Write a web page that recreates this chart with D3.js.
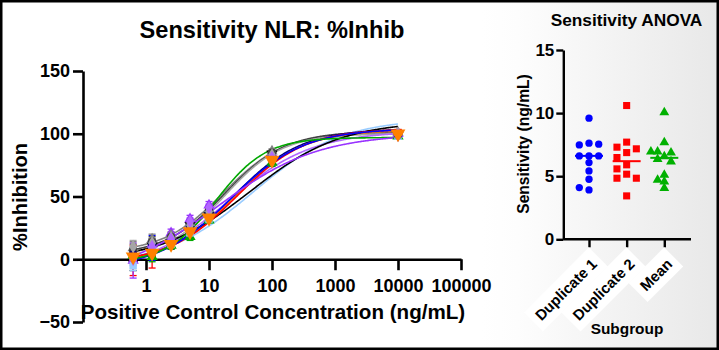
<!DOCTYPE html>
<html><head><meta charset="utf-8">
<script src="https://cdn.jsdelivr.net/npm/d3@7"></script>
<style>
body{margin:0;background:#fff}
text{font-family:Arial,"Liberation Sans",sans-serif;font-weight:bold;fill:#000}
</style>
</head><body>
<svg id="chart" width="719" height="350"></svg>
<script>
// ---------- DATA: left panel (dose-response) ----------
const concentrations = [0.625, 1.25, 2.5, 5, 10, 100, 10000];
const xTickValues = [1, 10, 100, 1000, 10000, 100000];
const yTickValues = [-50, 0, 50, 100, 150];
const seriesNames = ["Run 1","Run 2","Run 3","Run 4","Run 5","Run 6","Run 7","Run 8","Run 9","Run 10","Run 11","Run 12"];
const run1  = [-3, 11, 13, 27, 35, 84, 99];
const run2  = [-1, 4, 14, 24, 34, 80, 101];
const run3  = [2, 9, 12, 23, 33, 79, 100];
const run4  = [3, 2, 11, 18, 31, 77, 98];
const run5  = [-1, 12, 21, 32, 43, 84, 100];
const run6  = [-5, 7, 12, 21, 32, 80, 98];
const run7  = [9, 16, 19, 29, 40, 86, 101];
const run8  = [7, 14, 18, 28, 39, 85, 100];
const run9  = [4, 12, 15, 26, 37, 82, 99];
const run10 = [10, 13, 17, 27, 38, 83, 100];
const run11 = [0, 10, 16, 30, 41, 81, 99];
const run12 = [2, 5, 12, 22, 33, 79, 100];
const err1  = [6, 5, 4, 3, 3, 2, 2];
const err2  = [12, 11, 4, 3, 3, 2, 2];
const err3  = [5, 10, 4, 3, 3, 2, 2];
const err4  = [5, 4, 3, 3, 2, 3, 2];
const err5  = [14, 4, 3, 3, 3, 2, 2];
const err6  = [4, 4, 3, 3, 3, 2, 2];
const err7  = [5, 4, 3, 3, 3, 2, 2];
const err8  = [5, 4, 3, 3, 3, 2, 2];
const err9  = [5, 4, 3, 3, 3, 2, 2];
const err10 = [5, 4, 3, 3, 3, 2, 2];
const err11 = [5, 4, 3, 3, 3, 2, 2];
const err12 = [4, 4, 3, 3, 3, 2, 2];
// 4PL fit parameters per run
const fitBottom = [-2, -3, -8, -3, -15, -5, 5, 3, -4, 2, -10, -4];
const fitTop    = [110, 104, 104, 97, 100, 112, 101, 102, 104, 100, 102, 103];
const fitEC50   = [45, 28, 22, 13, 14, 50, 17, 18, 24, 18, 20, 25];
const fitHill   = [0.6, 0.8, 0.75, 1.1, 0.55, 0.62, 0.9, 0.9, 0.8, 0.95, 0.65, 0.8];

// ---------- DATA: right panel (ANOVA scatter) ----------
const subgroups = ["Duplicate 1", "Duplicate 2", "Mean"];
const duplicate1 = [9.6, 7.62, 7.48, 7.54, 6.61, 6.61, 6.61, 6.08, 5.42, 4.76, 3.91, 4.1];
const duplicate2 = [10.6, 6.87, 7.3, 7.7, 7.17, 6.48, 5.9, 5.16, 5.58, 4.84, 4.84, 3.44];
const meanValues = [10.05, 7.67, 6.56, 6.95, 6.87, 6.95, 6.35, 6.16, 5.1, 4.7, 4.57, 4.05];
const sensTicks = [0, 5, 10, 15];

// ---------- styles ----------
const runs = [run1,run2,run3,run4,run5,run6,run7,run8,run9,run10,run11,run12];
const errs = [err1,err2,err3,err4,err5,err6,err7,err8,err9,err10,err11,err12];
const runColors = ["#000000","#ff0000","#0000ff","#00a800","#9933ff","#99ccff","#808080","#404040","#000080","#a6a6a6","#b266ff","#ff8000"];
const runShapes = ["down","square","circle","up","up","square","up","circle","circle","diamond","diamond","down"];
const lineOrder = [5,6,7,8,9,10,11,0,1,2,3,4];
const groupColors = ["#0000ff","#ff0000","#00b000"];
const groupShapes = ["circle","square","up"];

const svg = d3.select("#chart");
const defs = svg.append("defs");
const grad = defs.append("linearGradient").attr("id","bg").attr("x1","0").attr("x2","1").attr("y1","0").attr("y2","0");
grad.append("stop").attr("offset","0").attr("stop-color","#ffffff");
grad.append("stop").attr("offset","0.15").attr("stop-color","#fdfdfd");
grad.append("stop").attr("offset","1").attr("stop-color","#e8e8e8");
svg.append("rect").attr("x",482).attr("y",0).attr("width",237).attr("height",350).attr("fill","url(#bg)");

function symbolPath(shape, size){
  const map = {circle:d3.symbolCircle, square:d3.symbolSquare, up:d3.symbolTriangle, down:d3.symbolTriangle, diamond:d3.symbolDiamond};
  return d3.symbol().type(map[shape]).size(size)();
}
function styleAxis(g, w){
  g.selectAll("path.domain").attr("stroke","#000").attr("stroke-width",w);
  g.selectAll(".tick line").attr("stroke","#000").attr("stroke-width",w);
}

// ================= LEFT PANEL =================
const x = d3.scaleLog().domain([0.1, 100000]).range([83, 461]);
const y = d3.scaleLinear().domain([-50, 150]).range([322, 71]);

const gy = svg.append("g").attr("transform","translate(83,0)")
  .call(d3.axisLeft(y).tickValues(yTickValues).tickSize(10).tickSizeOuter(0).tickPadding(3).tickFormat(d3.format("d")));
gy.selectAll("text").style("font-size","18px").style("font-family","Arial, 'Liberation Sans', sans-serif").style("font-weight","bold");
styleAxis(gy, 2.6);

const gx = svg.append("g").attr("transform",`translate(0,${y(0)})`)
  .call(d3.axisBottom(x).tickValues(xTickValues).tickSize(11).tickSizeOuter(0).tickFormat(d3.format("d")));
gx.selectAll("text").attr("y",33).attr("dy",0).style("font-size","18px").style("font-family","Arial, 'Liberation Sans', sans-serif").style("font-weight","bold");
styleAxis(gx, 2.6);

svg.append("text").attr("x",272).attr("y",38).attr("text-anchor","middle").style("font-size","23.6px").text("Sensitivity NLR: %Inhib");
svg.append("text").attr("transform","translate(27,197) rotate(-90)").attr("text-anchor","middle").style("font-size","20px").text("%Inhibition");
svg.append("text").attr("x",273).attr("y",319).attr("text-anchor","middle").style("font-size","20.6px").text("Positive Control Concentration (ng/mL)");

// fitted curves
const fitX = d3.range(0, 201).map(i => Math.pow(10, Math.log10(0.625) + i*(Math.log10(10000)-Math.log10(0.625))/200));
const line = d3.line().x(d => x(d[0])).y(d => y(d[1])).curve(d3.curveBasis);
lineOrder.forEach(i => {
  const pts = fitX.map(c => [c, fitBottom[i] + (fitTop[i]-fitBottom[i])/(1+Math.pow(fitEC50[i]/c, fitHill[i]))]);
  svg.append("path").attr("d", line(pts)).attr("fill","none").attr("stroke", runColors[i]).attr("stroke-width",1.6);
});

// error bars + markers
runs.forEach((vals, i) => {
  const g = svg.append("g");
  vals.forEach((v, j) => {
    const cx = x(concentrations[j]);
    const lo = y(v - errs[i][j]), hi = y(v + errs[i][j]);
    g.append("line").attr("x1",cx).attr("x2",cx).attr("y1",lo).attr("y2",hi).attr("stroke",runColors[i]).attr("stroke-width",1.3);
    [lo,hi].forEach(yy => g.append("line").attr("x1",cx-3.5).attr("x2",cx+3.5).attr("y1",yy).attr("y2",yy).attr("stroke",runColors[i]).attr("stroke-width",1.3));
  });
});
runs.forEach((vals, i) => {
  const size = i === 11 ? 95 : 55;
  vals.forEach((v, j) => {
    svg.append("path").attr("d", symbolPath(runShapes[i], size))
      .attr("transform", `translate(${x(concentrations[j])},${y(v)})${runShapes[i]==="down" ? " rotate(180)" : ""}`)
      .attr("fill", runColors[i]);
  });
});

// ================= RIGHT PANEL =================
const xr = d3.scalePoint().domain(subgroups).range([589, 664.3]);
const yr = d3.scaleLinear().domain([0, 15]).range([239.3, 50]);

const gyr = svg.append("g").attr("transform","translate(563.3,0)")
  .call(d3.axisLeft(yr).tickValues(sensTicks).tickSize(7).tickSizeOuter(0).tickPadding(2).tickFormat(d3.format("d")));
gyr.selectAll("text").style("font-size","17px").style("font-family","Arial, 'Liberation Sans', sans-serif").style("font-weight","bold");
styleAxis(gyr, 2.4);

const gxr = svg.append("g").attr("transform",`translate(0,${yr(0)})`)
  .call(d3.axisBottom(xr).tickSize(8).tickSizeOuter(0).tickFormat(""));
gxr.select("path.domain").attr("d","M563.3,0H691");
styleAxis(gxr, 2.4);

// rotated category labels with white boxes
subgroups.forEach(s => {
  const g = svg.append("g").attr("transform",`translate(${xr(s)+9},265) rotate(-45)`);
  const t = g.append("text").attr("text-anchor","end").style("font-size","15px").text(s);
  const b = t.node().getBBox();
  g.insert("rect","text").attr("x",b.x-6).attr("y",b.y-5).attr("width",b.width+12).attr("height",b.height+10).attr("fill","#ffffff");
});

svg.append("text").attr("x",626.5).attr("y",26).attr("text-anchor","middle").style("font-size","17.3px").text("Sensitivity ANOVA");
svg.append("text").attr("transform","translate(529,144) rotate(-90)").attr("text-anchor","middle").style("font-size","15.6px").text("Sensitivity (ng/mL)");
svg.append("text").attr("x",627).attr("y",334).attr("text-anchor","middle").style("font-size","15.4px").text("Subgroup");

function swarm(values, cx, dx, minDist){
  const placed = [];
  return values.map(v => {
    const py = yr(v);
    for (const k of [0,-1,1,-2,2,-3,3,-4,4]) {
      const px = cx + k*dx;
      if (placed.every(p => Math.hypot(p[0]-px, p[1]-py) >= minDist)) { placed.push([px,py]); return [px,py]; }
    }
    return [cx, py];
  });
}
[duplicate1, duplicate2, meanValues].forEach((vals, gi) => {
  const cx = xr(subgroups[gi]);
  const pos = swarm(vals, cx, gi===2 ? 6.7 : 9.7, 6.5);
  pos.forEach(p => {
    svg.append("path").attr("d", symbolPath(groupShapes[gi], gi===1 ? 50 : 42))
      .attr("transform",`translate(${p[0]},${p[1]})`).attr("fill", groupColors[gi]);
  });
  const med = d3.median(vals);
  svg.append("line").attr("x1",cx-14).attr("x2",cx+14).attr("y1",yr(med)).attr("y2",yr(med))
    .attr("stroke",groupColors[gi]).attr("stroke-width",2);
});

// outer frame
svg.append("rect").attr("x",1.25).attr("y",1.25).attr("width",716.5).attr("height",347.5).attr("fill","none").attr("stroke","#000").attr("stroke-width",2.5);
</script>
</body></html>
